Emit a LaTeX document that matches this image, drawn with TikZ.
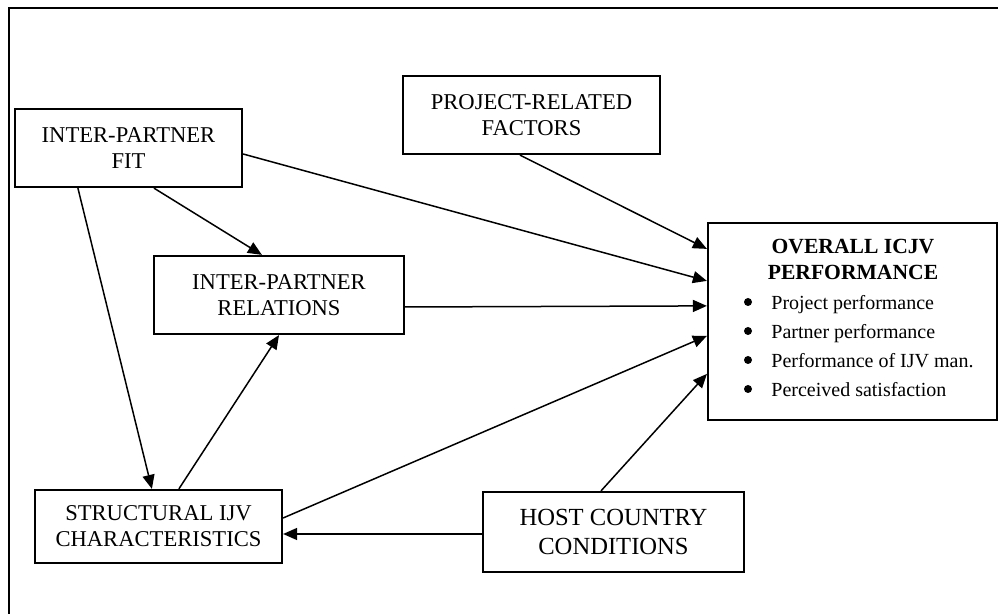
\documentclass[tikz,border=0pt]{standalone}
\usepackage{fontspec}
\setmainfont{Liberation Serif}
\usetikzlibrary{arrows.meta,calc}

\begin{document}
\begin{tikzpicture}[x=0.5pt,y=-0.5pt,
  box/.style={draw, line width=1.1pt, inner sep=0pt, align=center,
    font=\fontsize{11.3}{13}\selectfont},
  bigbox/.style={box, font=\fontsize{12.3}{14.7}\selectfont},
  title/.style={inner sep=0pt, font=\fontsize{10.8}{13}\selectfont\bfseries},
  item/.style={inner sep=0pt, font=\fontsize{10}{12}\selectfont},
  dot/.style={circle, fill, inner sep=0pt, minimum size=4pt},
  link/.style={line width=0.75pt, -{Triangle[length=7pt,width=6pt]}}]

\useasboundingbox (0,0) rectangle (998,614);

% outer frame
\draw[line width=1pt] (998,8) -- (9,8) -- (9,614);

% factor boxes
\node[box, minimum width=113.5pt, minimum height=39pt] (fit) at (128.5,148)
  {INTER-PARTNER\\FIT};
\node[box, minimum width=128.5pt, minimum height=39pt] (proj) at (531.5,115)
  {PROJECT-RELATED\\FACTORS};
\node[box, minimum width=125pt, minimum height=39pt] (rel) at (279,295)
  {INTER-PARTNER\\RELATIONS};
\node[box, minimum width=123.5pt, minimum height=36.5pt] (str) at (158.5,526.5)
  {STRUCTURAL IJV\\CHARACTERISTICS};
\node[bigbox, minimum width=130.5pt, minimum height=40pt] (host) at (613.5,532)
  {HOST COUNTRY\\CONDITIONS};

% performance box with its bulleted measures
\node[box, minimum width=144.5pt, minimum height=98.5pt] (perf) at (852.5,321.5) {};
\node[title, anchor=base] (perfa) at (853,254) {OVERALL ICJV};
\node[title, anchor=base] (perfb) at (853,280) {PERFORMANCE};
\node[dot] (d1) at (748,302) {};
\node[dot] (d2) at (748,331) {};
\node[dot] (d3) at (748,360) {};
\node[dot] (d4) at (748,389) {};
\node[item, anchor=base west] (i1) at (771,310) {Project performance};
\node[item, anchor=base west] (i2) at (771,339) {Partner performance};
\node[item, anchor=base west] (i3) at (771,368) {Performance of IJV man.};
\node[item, anchor=base west] (i4) at (771,397) {Perceived satisfaction};

% connectors
\draw[link] ($(fit.south west)+(140,0)$) -- ($(rel.north west)+(109,0)$);
\draw[link] ($(fit.south west)+(64,0)$) -- ($(str.north west)+(118,0)$);
\draw[link] ($(str.north west)+(145,0)$) -- (rel.south);
\draw[link] ($(fit.east)+(0,6)$) -- ($(perf.north west)+(0,59)$);
\draw[link] ($(proj.south)+(-11.5,0)$) -- ($(perf.north west)+(0,27)$);
\draw[link] ($(rel.east)+(0,12)$) -- ($(perf.north west)+(0,84)$);
\draw[link] ($(str.east)+(0,-8.5)$) -- ($(perf.north west)+(0,114)$);
\draw[link] ($(host.west)+(0,2)$) -- ($(str.east)+(0,7.5)$);
\draw[link] ($(host.north)+(-12.5,0)$) -- ($(perf.north west)+(0,152)$);

\end{tikzpicture}
\end{document}
